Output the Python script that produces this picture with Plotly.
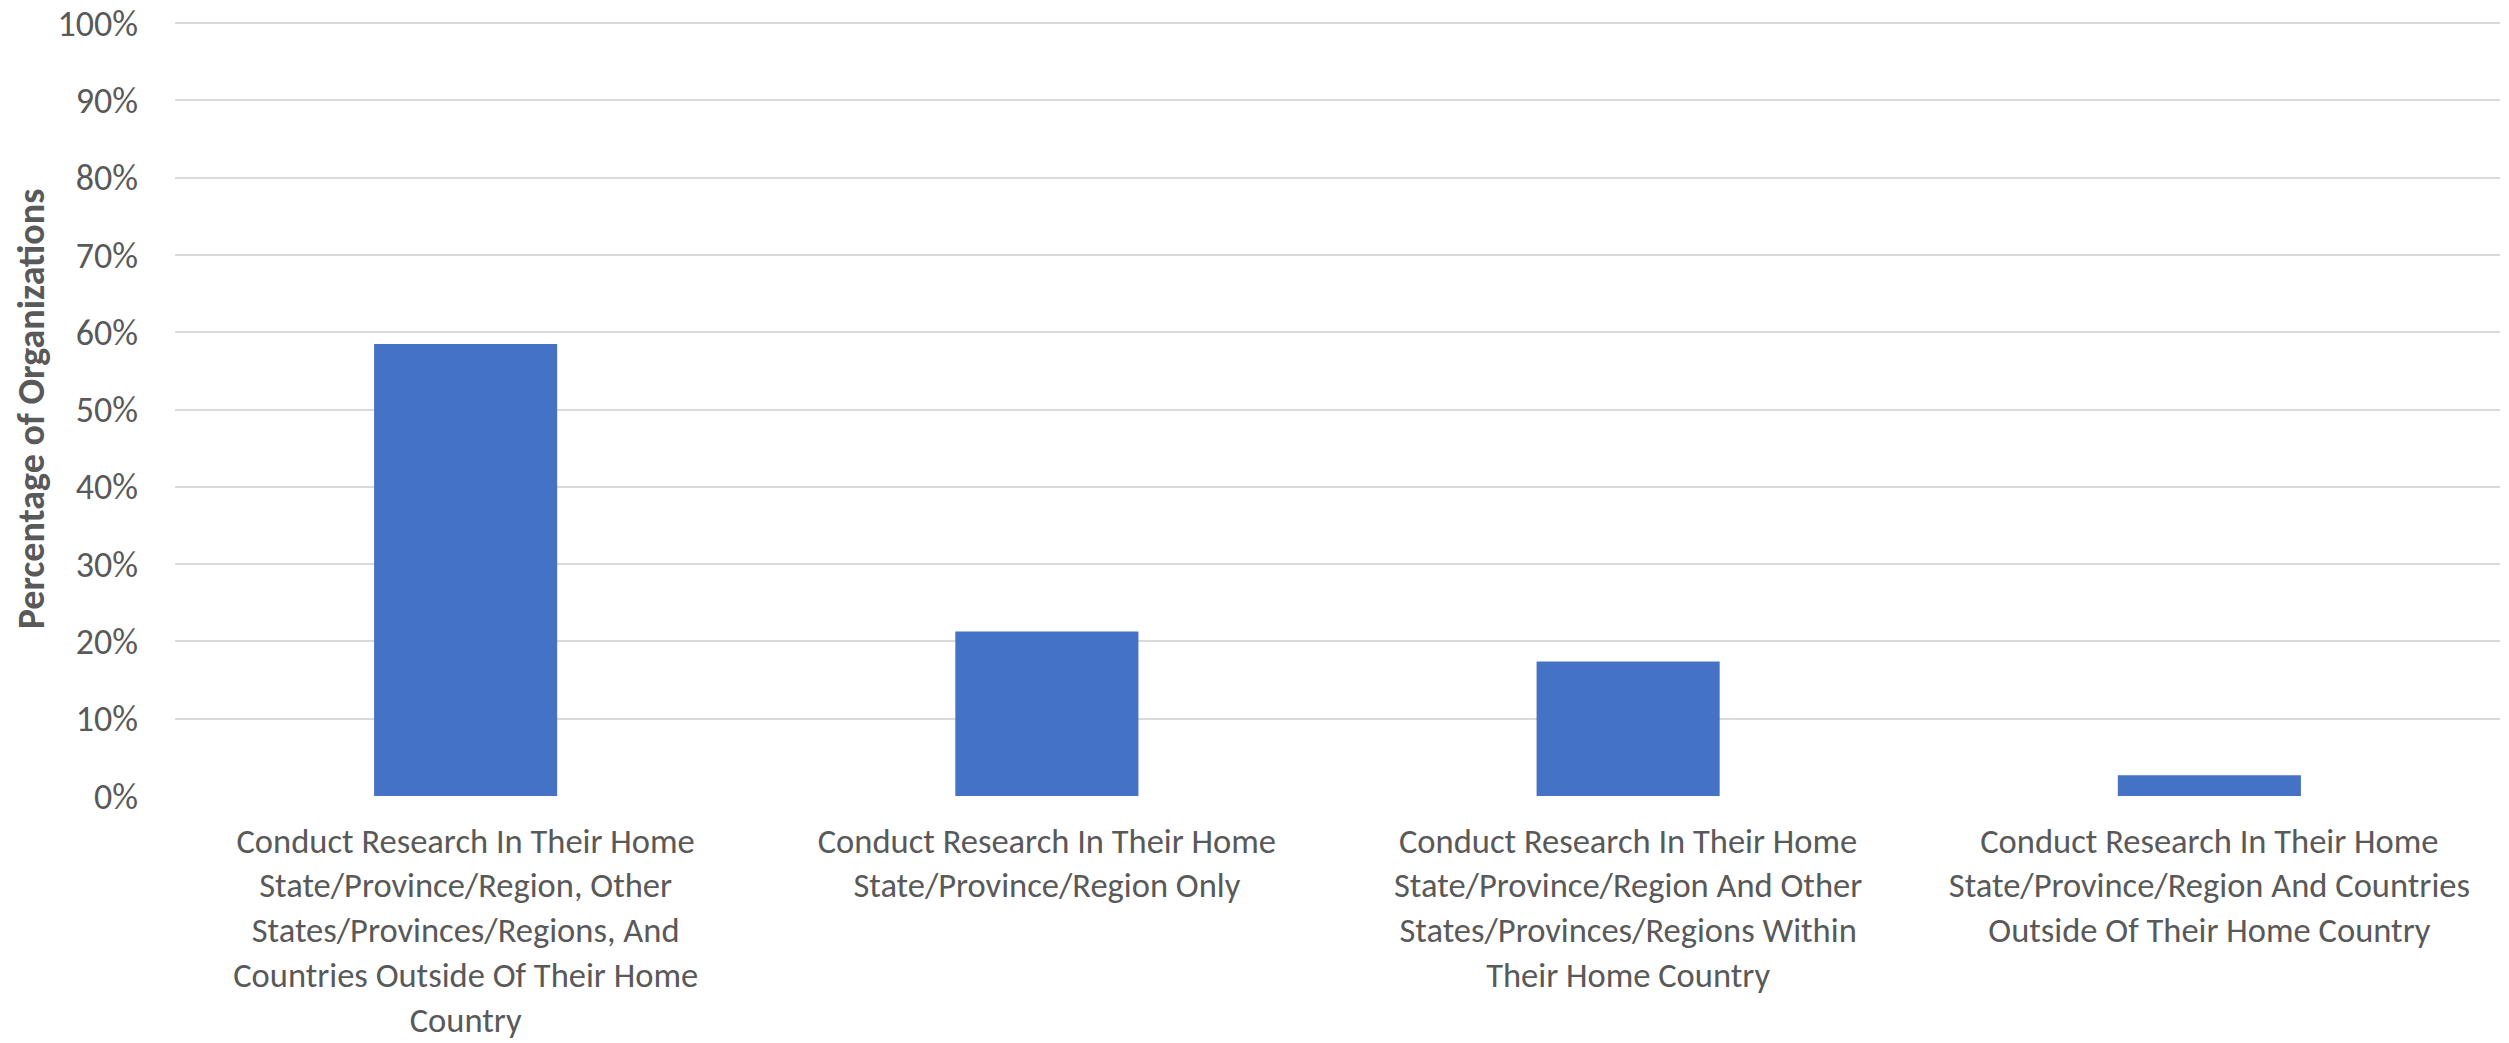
import plotly.graph_objects as go

categories = [
    "Conduct Research In Their Home<br>State/Province/Region, Other<br>States/Provinces/Regions, And<br>Countries Outside Of Their Home<br>Country",
    "Conduct Research In Their Home<br>State/Province/Region Only",
    "Conduct Research In Their Home<br>State/Province/Region And Other<br>States/Provinces/Regions Within<br>Their Home Country",
    "Conduct Research In Their Home<br>State/Province/Region And Countries<br>Outside Of Their Home Country",
]
values = [0.585, 0.213, 0.174, 0.027]
y_ticks = [0, 0.1, 0.2, 0.3, 0.4, 0.5, 0.6, 0.7, 0.8, 0.9, 1.0]
y_tick_labels = ["0%", "10%", "20%", "30%", "40%", "50%", "60%", "70%", "80%", "90%", "100%"]

FONT = "Carlito, Calibri, Lato, sans-serif"
TEXT = "#595959"

fig = go.Figure(go.Bar(x=categories, y=values, marker=dict(color="#4472C4", line=dict(width=0))))

fig.update_layout(
    width=2501, height=1035, autosize=False,
    margin=dict(l=167, r=9, t=14, b=247),
    paper_bgcolor="white", plot_bgcolor="white",
    bargap=0.685,
    showlegend=False,
    font=dict(family=FONT, color=TEXT, size=35),
)
fig.update_xaxes(
    showgrid=False, showline=False, zeroline=False, ticks="",
    tickfont=dict(family=FONT, size=34.5, color=TEXT),
    ticklabelstandoff=21, automargin=False, ticklabeloverflow="allow",
)
fig.update_yaxes(
    range=[0, 1.0015], tickvals=y_ticks, ticktext=y_tick_labels,
    showgrid=True, gridcolor="#d9d9d9", gridwidth=2,
    zeroline=False, showline=False, ticks="",
    tickfont=dict(family=FONT, size=36, color=TEXT),
    ticklabelstandoff=36, automargin=False, ticklabeloverflow="allow",
    title=dict(text="<b>Percentage of Organizations</b>", font=dict(family=FONT, size=38, color=TEXT), standoff=20),
)

fig.write_html("out.html")
